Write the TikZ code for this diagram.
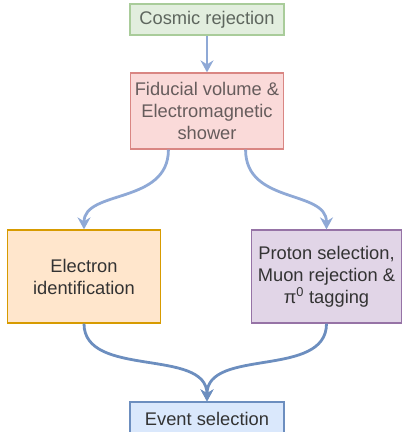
\documentclass[tikz,border=0pt]{standalone}
\usepackage{fontspec}
\setmainfont{Liberation Sans}
\usepackage{tikz}
\usetikzlibrary{arrows.meta, calc}
\definecolor{txtdark}{HTML}{333333}
\definecolor{txtfadegreen}{HTML}{5E665E}
\definecolor{txtfadered}{HTML}{665C5C}
\definecolor{cosmicfill}{HTML}{E2EEDE}
\definecolor{cosmicdraw}{HTML}{A9CC9A}
\definecolor{fidfill}{HTML}{FADAD9}
\definecolor{fiddraw}{HTML}{D98683}
\definecolor{elecfill}{HTML}{FFE6CC}
\definecolor{elecdraw}{HTML}{D79B00}
\definecolor{protfill}{HTML}{E1D5E7}
\definecolor{protdraw}{HTML}{9673A6}
\definecolor{evtfill}{HTML}{DAE8FC}
\definecolor{evtdraw}{HTML}{6C8EBF}
\definecolor{flowline}{HTML}{6C8EBF}
\definecolor{flowfade}{HTML}{8FA9D6}
\tikzstyle{stepbox} = [rectangle, 
line width=1.3pt, 
inner sep=0pt, 
align=center, 
text=txtdark, 
font=\fontsize{18.3}{22}\selectfont]
\tikzstyle{flow} = [line width=2.8pt, draw=flowline,
-{Stealth[length=12pt, width=13pt, inset=4pt]}]
\tikzstyle{flowlight} = [flow, draw=flowfade]

\begin{document}
\begin{tikzpicture}[x=1pt, y=1pt, node distance=91.5pt]
		\useasboundingbox (0,0) rectangle (402,-432);
		\node (cosmic) [stepbox, minimum width=154pt, minimum height=31pt, fill=cosmicfill, draw=cosmicdraw, text=txtfadegreen] at (207,-19.5) {Cosmic rejection};
		\node (fid) [stepbox, minimum width=153pt, minimum height=76pt, fill=fidfill, draw=fiddraw, text=txtfadered, below of=cosmic] {Fiducial volume \&\\Electromagnetic\\shower};
		\node (electron) [stepbox, minimum width=153pt, minimum height=93pt, fill=elecfill, draw=elecdraw, below of=fid, node distance=165.5pt, xshift=-123pt] {Electron\\identification};
		\node (proton) [stepbox, minimum width=150pt, minimum height=93pt, fill=protfill, draw=protdraw, below of=fid, node distance=165.5pt, xshift=119.5pt] {Proton selection,\\Muon rejection \&\\π\textsuperscript{0} tagging};
		% bottom edge of this box runs off the page
		\node (event) [stepbox, minimum width=154pt, minimum height=34pt, fill=evtfill, draw=evtdraw, below of=fid, node distance=308pt] {Event selection};
		
		\coordinate (fidleft) at ($(fid.south west)!.25!(fid.south east)$);
		\coordinate (fidright) at ($(fid.south west)!.75!(fid.south east)$);
		
		\draw [flowlight](cosmic) -- (fid);
		\draw [flowlight](fidleft) .. controls ($(fidleft)+(0,-55)$) and ($(electron.north)+(0,40)$) .. (electron.north);
		\draw [flowlight](fidright) .. controls ($(fidright)+(0,-55)$) and ($(proton.north)+(0,40)$) .. (proton.north);
		\draw [flow](electron.south) .. controls ($(electron.south)+(0,-55)$) and ($(event.north)+(0,54)$) .. (event.north);
		\draw [flow](proton.south) .. controls ($(proton.south)+(0,-55)$) and ($(event.north)+(0,54)$) .. (event.north);
	\end{tikzpicture}
\end{document}
